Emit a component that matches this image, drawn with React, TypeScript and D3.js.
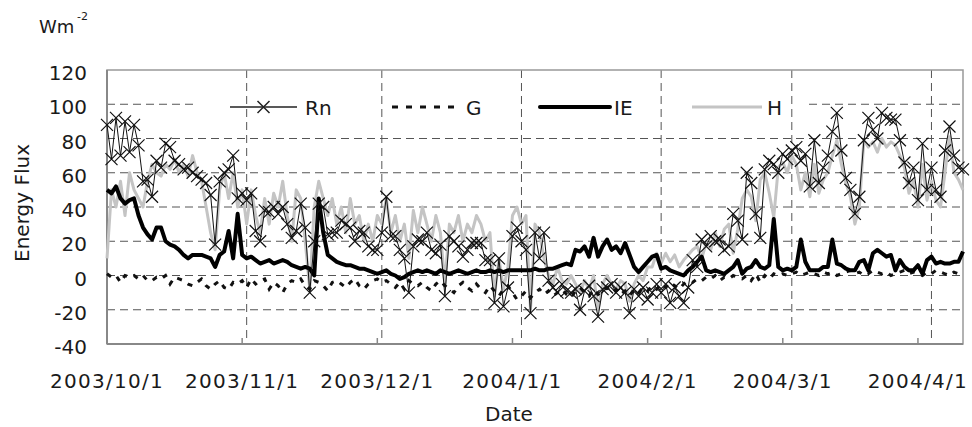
import React from "react";
import * as d3 from "d3";

const START = Date.UTC(2003, 9, 1);
const END = Date.UTC(2004, 3, 8);

const yTicks = [-40, -20, 0, 20, 40, 60, 80, 100, 120];
const monthTicks = ["2003/10/1", "2003/11/1", "2003/12/1", "2004/1/1", "2004/2/1", "2004/3/1", "2004/4/1"];
const monthDates = [[2003, 9], [2003, 10], [2003, 11], [2004, 0], [2004, 1], [2004, 2], [2004, 3]];
const labelDays = [0, 30, 60, 90, 120, 150, 180];

const Rn = [
  88, 68, 92, 70, 90, 72, 88, 76, 55, 56,
  46, 67, 63, 77, 75, 67, 65, 62, 63, 60,
  58, 56, 54, 47, 18, 55, 60, 62, 70, 45,
  48, 44, 48, 26, 20, 38, 37, 40, 36, 40,
  30, 22, 26, 42, 28, -10, 20, 42, 40, 24,
  25, 25, 32, 30, 28, 20, 26, 25, 17, 15,
  15, 25, 46, 23, 23, 15, 10, -10, 17, 21,
  20, 25, 15, 13, 18, -12, 23, 20, 17, 11,
  15, 19, 19, 19, 9, 9, -16, 10, -18, -7,
  23, 28, 20, 15, -22, 25, 10, 25, -3, -7,
  -10, -5, -9, -10, -8, -20, -9, -6, -12, -24,
  -8, -7, -5, -10, -7, -10, -22, -8, -12, -7,
  -14, -10, -5, -10, -5, -16, -7, -12, -16, -7,
  9, 5, 21, 17, 23, 20, 21, 15, 17, 36,
  32, 21, 60, 54, 36, 22, 62, 67, 65, 60,
  71, 68, 73, 75, 67, 71, 52, 79, 54, 63,
  70, 84, 95, 73, 57, 50, 36, 46, 79, 92,
  85, 80, 95, 92, 91, 91, 79, 66, 54, 63,
  44, 77, 50, 63, 50, 46, 73, 87, 70, 63,
  62,
];

const H = [
  10, 50, 40, 55, 35, 60, 50, 45, 40, 55,
  65, 60, 58, 65, 62, 68, 60, 65, 58, 70,
  60, 55, 40, 25, 15, 50, 60, 45, 60, 40,
  50, 30, 50, 35, 25, 45, 30, 48, 40, 55,
  35, 20, 50, 45, 20, -8, 40, 55, 45, 35,
  45, 30, 40, 25, 45, 30, 35, 20, 30, 20,
  35, 30, 45, 25, 35, 20, 30, 10, 38, 25,
  40, 30, 20, 35, 25, -5, 30, 25, 35, 20,
  30, 25, 35, 30, 20, 25, -12, 10, -8, 5,
  35, 40, 30, 35, -20, 30, 25, 10, 0, -5,
  5, -3, -5, 0, -5, -10, -3, -8, 0, -20,
  -5, 0, -5, -8, -3, -5, -15, -5, 0, -3,
  5, 5, 13, 7, 13, 8, 12, 5, 9, 12,
  15, 17, 10, 19, 15, 25, 17, 27, 30, 13,
  27, 45, 50, 46, 32, 56, 60, 48, 34, 63,
  66, 60, 70, 65, 50, 60, 46, 65, 48, 56,
  60, 70, 79, 65, 54, 46, 30, 40, 79, 75,
  78, 72, 80, 75, 78, 76, 70, 63, 48, 55,
  40, 65, 44, 55, 44, 40, 60, 81, 60, 56,
  50,
];

const IE = [
  50, 48, 52, 45, 42, 44, 45, 35, 28, 24,
  21, 28, 28, 20, 18, 17, 15, 12, 10, 12,
  12, 12, 11, 10, 5, 12, 14, 26, 10, 36,
  12, 10, 11, 9, 7, 8, 9, 7, 8, 9,
  8, 6, 5, 4, 5, 4, 0, 45, 25, 12,
  10, 8, 7, 6, 6, 5, 4, 4, 3, 2,
  1, 2, 3, 1, 0, -2, -1, 1, 2, 3,
  2, 3, 2, 1, 3, 2, 1, 2, 3, 2,
  1, 2, 3, 2, 2, 3, 2, 3, 2, 3,
  3, 3, 3, 3, 3, 4, 3, 3, 4, 4,
  5, 6, 7, 6, 15, 14, 17, 11, 22, 11,
  17, 21, 15, 17, 13, 19, 12, 5, 2, 5,
  8, 11, 12, 4, 5, 3, 2, 1, 0, 3,
  5, 8, 11, 3, 2, 3, 2, 1, 3, 5,
  9, 1, 4, 5, 9, 5, 4, 6, 33, 5,
  3, 4, 3, 5, 21, 8, 3, 3, 3, 5,
  5, 21, 7, 6, 4, 3, 3, 8, 9, 3,
  13, 15, 13, 11, 12, 3, 9, 5, 3, 3,
  6, 1, 9, 11, 7, 8, 7, 7, 8, 8,
  14,
];

const G = [
  1, -1, 0, -4, 0, -1, 0, -2, 0, -3,
  -3, -1, -2, 0, -5, -1, -2, -3, -5, -6,
  -4, -2, -6, -8, -5, -3, -7, -8, -4, -5,
  -3, -7, -2, -5, -3, -2, -8, -4, -6, -10,
  -5, -3, -4, -2, -6, -8, -3, -4, -6, -9,
  -4, -3, -5, -7, -4, -2, -6, -8, -5, -3,
  -2, -4, -3, -5, -7, -4, -8, -3, -5, -6,
  -4, -7, -9, -5, -3, -6, -8, -10, -6, -4,
  -7, -9, -5, -8, -10, -6, -9, -12, -8, -6,
  -10, -14, -12, -9, -13, -10, -8, -11, -9, -12,
  -10, -8, -11, -13, -9, -7, -10, -12, -8, -11,
  -9, -7, -10, -8, -11, -9, -12, -8, -10, -7,
  -9, -6, -8, -5, -7, -4, -6, -8, -5, -3,
  -4, -2, -3, -1, -2, 0, -3, -1, -2, 0,
  -1, -2, 0, -3, 1, -4, 0, -2, 1, 0,
  1, 0, 1, 2, 0, 1, 2, 1, 0, 2,
  1, 2, 0, 1, 2, 3, 1, 2, 0, 1,
  3, 2, 1, 2, 0, 1, 2, 3, 1, 2,
  1, 0, 2, 1, 3, 2, 1, 0, 2, 1,
  2,
];

const legendItems = ["Rn", "G", "IE", "H"];

const FONT = "'DejaVu Sans', sans-serif";

export default function App() {
  const W = 972, Hh = 427;
  const L = 107, R = 963, T = 70, B = 344;
  const x = d3.scaleUtc().domain([new Date(START), new Date(END)]).range([L, R]);
  const y = d3.scaleLinear().domain([-40, 120]).range([B, T]);
  const dateOf = (i: number) => d3.utcDay.offset(new Date(START), i);
  const mk = (arr: number[]) =>
    d3.line<number>().x((_, i) => x(dateOf(i))).y((v) => y(v))(arr) || "";

  const monthX = monthDates.map(([yy, mm]) => x(new Date(Date.UTC(yy, mm, 1))));
  const tickDays = d3.range(30, 191, 30);

  const xs = (cx: number, cy: number, s: number) =>
    `M${cx - s},${cy - s}L${cx + s},${cy + s}M${cx - s},${cy + s}L${cx + s},${cy - s}`;

  const legY = 107;
  const legend = [
    { name: legendItems[0], x1: 230, x2: 297, tx: 305 },
    { name: legendItems[1], x1: 392, x2: 457, tx: 466 },
    { name: legendItems[2], x1: 540, x2: 610, tx: 614 },
    { name: legendItems[3], x1: 692, x2: 762, tx: 767 },
  ];

  return (
    <svg width={W} height={Hh} style={{ position: "absolute", left: 0, top: 0, background: "#fff" }}
      fontFamily={FONT}>
      <rect x={0} y={0} width={W} height={Hh} fill="#fff" />
      {yTicks.filter((v) => v > -40 && v < 120).map((v) => (
        <line key={"h" + v} x1={L} x2={R} y1={y(v)} y2={y(v)} stroke="#555" strokeWidth={1} strokeDasharray="8,5" />
      ))}
      <rect x={198} y={94} width={610} height={24} fill="#fff" />
      {monthX.slice(1).map((mx, i) => (
        <line key={"v" + i} x1={mx} x2={mx} y1={T} y2={B} stroke="#555" strokeWidth={1} strokeDasharray="8,5" />
      ))}
      <rect x={L} y={T} width={R - L} height={B - T} fill="none" stroke="#999" strokeWidth={1.5} />
      <line x1={L} x2={L} y1={T} y2={B} stroke="#888" strokeWidth={2} />
      <line x1={L} x2={R} y1={B} y2={B} stroke="#888" strokeWidth={2} />
      {tickDays.map((d) => (
        <line key={"t" + d} x1={x(dateOf(d))} x2={x(dateOf(d))} y1={B} y2={B - 6} stroke="#888" strokeWidth={1.5} />
      ))}

      <path d={mk(H)} fill="none" stroke="#c4c4c4" strokeWidth={3} strokeLinejoin="round" />
      <path d={mk(G)} fill="none" stroke="#111" strokeWidth={3} strokeDasharray="5,7" />
      <path d={mk(IE)} fill="none" stroke="#000" strokeWidth={4} strokeLinejoin="round" />
      <path d={mk(Rn)} fill="none" stroke="#111" strokeWidth={1} />
      {Rn.map((v, i) => (
        <path key={"m" + i} d={xs(x(dateOf(i)), y(v), 6)} stroke="#111" strokeWidth={1.2} fill="none" />
      ))}

      {yTicks.map((v) => (
        <text key={"yl" + v} x={87} y={y(v) + 10} textAnchor="end" fontSize={20} fill="#1a1a1a">
          {v}
        </text>
      ))}
      {monthTicks.map((t, i) => (
        <text key={"xl" + i} x={x(dateOf(labelDays[i]))} y={388} textAnchor="middle" fontSize={20} letterSpacing={1.3} fill="#1a1a1a">
          {t}
        </text>
      ))}

      <line x1={legend[0].x1} x2={legend[0].x2} y1={legY} y2={legY} stroke="#222" strokeWidth={1.5} />
      <path d={xs((legend[0].x1 + legend[0].x2) / 2, legY, 6)} stroke="#222" strokeWidth={1.5} />
      <line x1={legend[1].x1} x2={legend[1].x2} y1={legY} y2={legY} stroke="#111" strokeWidth={3} strokeDasharray="6,8" />
      <line x1={legend[2].x1} x2={legend[2].x2} y1={legY} y2={legY} stroke="#000" strokeWidth={4} strokeLinecap="round" />
      <line x1={legend[3].x1} x2={legend[3].x2} y1={legY} y2={legY} stroke="#c4c4c4" strokeWidth={3} />
      {legend.map((l) => (
        <text key={"lg" + l.name} x={l.tx} y={legY + 8} fontSize={20} fill="#1a1a1a">{l.name}</text>
      ))}

      <text x={39} y={33} fontSize={18} fill="#1a1a1a">Wm</text>
      <text x={77} y={20} fontSize={11} fill="#1a1a1a">-2</text>
      <text x={509} y={421} textAnchor="middle" fontSize={20} fill="#1a1a1a">Date</text>
      <text transform="translate(29,203) rotate(-90)" textAnchor="middle" fontSize={20} fill="#1a1a1a">Energy Flux</text>
    </svg>
  );
}
